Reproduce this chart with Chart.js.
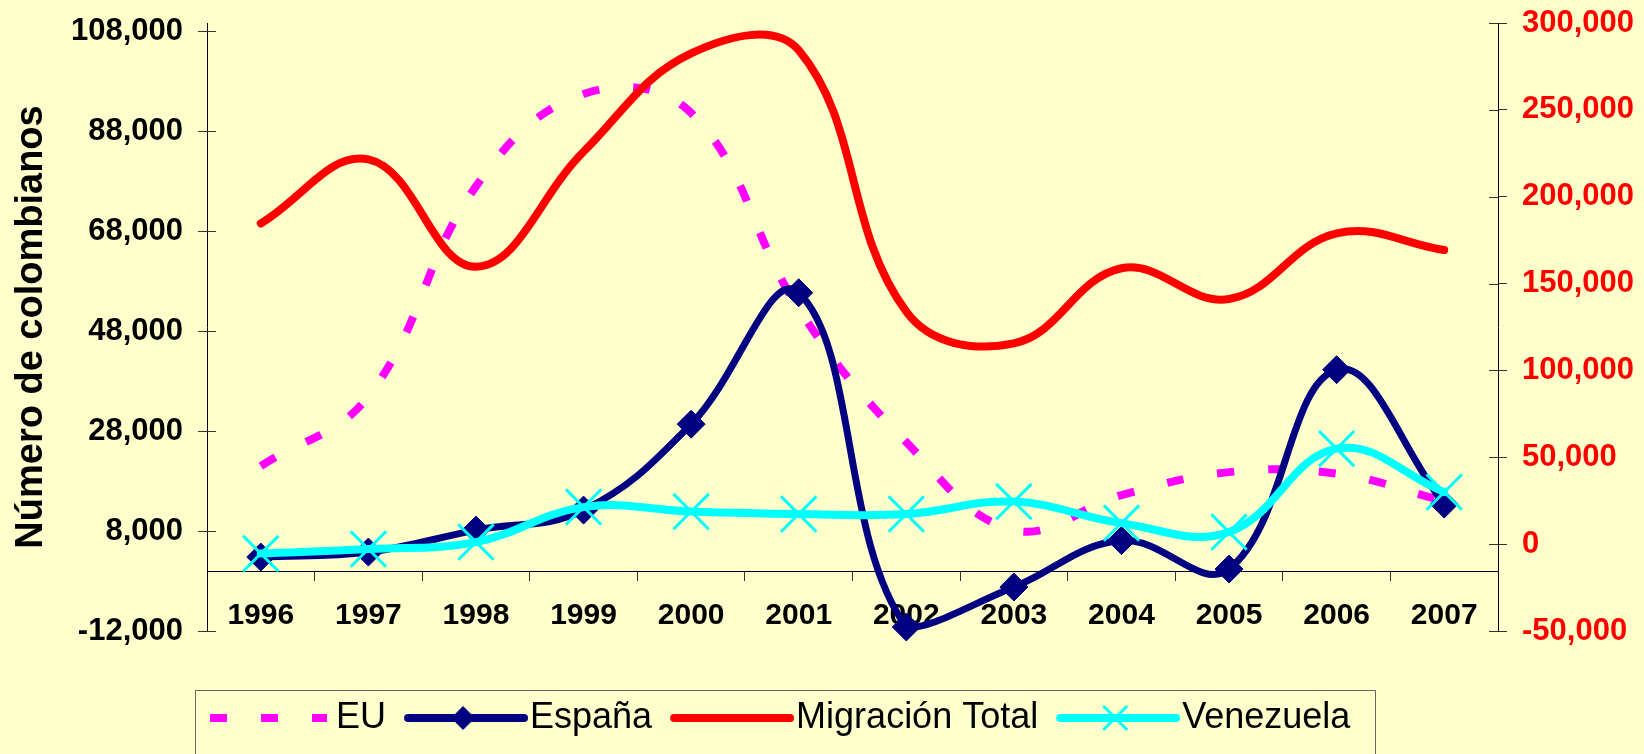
<!DOCTYPE html>
<html>
<head>
<meta charset="utf-8">
<script src="https://cdn.jsdelivr.net/npm/chart.js@4.4.1/dist/chart.umd.min.js"></script>
<style>
  html, body { margin: 0; padding: 0; background: #ffffcc; overflow: hidden; }
  canvas { display: block; }
</style>
</head>
<body>
<canvas id="migracion" width="1644" height="754"></canvas>
<script>
const years = ['1996', '1997', '1998', '1999', '2000', '2001', '2002', '2003', '2004', '2005', '2006', '2007'];
const eu = [21000, 35000, 77000, 95500, 91700, 52500, 25800, 8200, 15200, 19800, 19500, 14000];
const espana = [2800, 3800, 8200, 12200, 29400, 55700, -11200, -3200, 6100, 400, 40300, 13400];
const migracionTotal = [184600, 221500, 159700, 225900, 282500, 284400, 133800, 115600, 158800, 141100, 178900, 169300];
const venezuela = [3500, 4400, 5800, 12800, 11900, 11400, 11400, 13900, 9600, 7800, 24500, 15800];

const leftTicks = [-12000, 8000, 28000, 48000, 68000, 88000, 108000];
const rightTicks = [-50000, 0, 50000, 100000, 150000, 200000, 250000, 300000];

const FONT = '"Liberation Sans", Arial, sans-serif';
const fmt = v => Number(v).toLocaleString('en-US');

// small line+marker pictures for the legend, Excel style
function legendSample(color, kind) {
  const c = document.createElement('canvas');
  c.width = 128; c.height = 32;
  const g = c.getContext('2d');
  g.strokeStyle = color;
  g.fillStyle = color;
  g.lineWidth = 8;
  g.beginPath();
  if (kind === 'dash') {
    g.setLineDash([17, 34]);
    g.lineCap = 'butt';
    g.moveTo(4, 16); g.lineTo(121, 16);
  } else {
    g.lineCap = 'round';
    g.moveTo(8, 16); g.lineTo(124, 16);
  }
  g.stroke();
  g.setLineDash([]);
  if (kind === 'diamond') {
    g.beginPath();
    g.moveTo(63, 4); g.lineTo(75, 16); g.lineTo(63, 28); g.lineTo(51, 16);
    g.closePath(); g.fill();
  }
  if (kind === 'x') {
    g.lineWidth = 3; g.lineCap = 'butt';
    g.beginPath();
    g.moveTo(51, 4); g.lineTo(75, 28);
    g.moveTo(75, 4); g.lineTo(51, 28);
    g.stroke();
  }
  return c;
}

const samples = [
  legendSample('#ff00ff', 'dash'),
  legendSample('#000080', 'diamond'),
  legendSample('#ff0000', 'line'),
  legendSample('#00ffff', 'x')
];

// tick marks that cross the value axes
const crossTicks = {
  id: 'crossTicks',
  afterDraw(chart) {
    const ctx = chart.ctx;
    ctx.save();
    ctx.strokeStyle = '#333';
    ctx.lineWidth = 1;
    ['y', 'y1'].forEach(id => {
      const s = chart.scales[id];
      const x0 = id === 'y' ? chart.chartArea.left : chart.chartArea.right;
      const dir = id === 'y' ? 1 : -1;
      s.ticks.forEach((t, i) => {
        const py = Math.round(s.getPixelForTick(i)) + 0.5;
        ctx.beginPath();
        ctx.moveTo(x0, py);
        ctx.lineTo(x0 + dir * 9, py);
        ctx.stroke();
      });
    });
    ctx.restore();
  }
};

// put the legend where Excel had it, and draw its frame
const legendPlace = {
  id: 'legendPlace',
  afterLayout(chart) {
    const lg = chart.legend;
    lg.left = 192;
    lg.right = chart.width;
    lg.top = 670;
    lg.bottom = chart.height + 40;
  },
  afterDraw(chart) {
    const lg = chart.legend;
    const ctx = chart.ctx;
    ctx.save();
    ctx.strokeStyle = '#666';
    ctx.lineWidth = 1;
    ctx.strokeRect(lg.left + 3.5, lg.top + 20.5, 1180, 100);
    ctx.restore();
  }
};

// value axes: fixed width, no extra padding above/below
const fitAxis = w => s => {
  s.width = w;
  s.paddingTop = 0;
  s.paddingBottom = 0;
};

new Chart(document.getElementById('migracion'), {
  type: 'line',
  data: {
    labels: years,
    datasets: [{
      label: 'EU',
      data: eu,
      yAxisID: 'y',
      borderColor: '#ff00ff',
      borderWidth: 8,
      borderDash: [17, 34],
      borderCapStyle: 'butt',
      pointRadius: 0,
      tension: 0.4,
      clip: false,
      order: 3
    }, {
      label: 'España',
      data: espana,
      yAxisID: 'y',
      borderColor: '#000080',
      borderWidth: 7,
      borderCapStyle: 'round',
      borderJoinStyle: 'round',
      pointStyle: 'rectRot',
      pointRadius: 14,
      pointBackgroundColor: '#000080',
      pointBorderColor: '#000080',
      pointBorderWidth: 1,
      tension: 0.4,
      clip: false,
      order: 2
    }, {
      label: 'Migración Total',
      data: migracionTotal,
      yAxisID: 'y1',
      borderColor: '#ff0000',
      borderWidth: 8,
      borderCapStyle: 'round',
      borderJoinStyle: 'round',
      pointRadius: 0,
      tension: 0.4,
      clip: false,
      order: 0
    }, {
      label: 'Venezuela',
      data: venezuela,
      yAxisID: 'y',
      borderColor: '#00ffff',
      borderWidth: 8,
      borderCapStyle: 'round',
      borderJoinStyle: 'round',
      pointStyle: 'crossRot',
      pointRadius: 25,
      pointBorderColor: '#00ffff',
      pointBorderWidth: 3,
      tension: 0.4,
      clip: false,
      order: 1
    }]
  },
  options: {
    responsive: false,
    animation: false,
    layout: { autoPadding: false, padding: { top: 23, bottom: 63, left: 0, right: 0 } },
    scales: {
      x: {
        type: 'category',
        position: { y: 0 },
        offset: true,
        grid: { display: true, drawOnChartArea: false, drawTicks: true, tickLength: 9, offset: true, tickColor: '#333' },
        border: { display: true, color: '#000', width: 1 },
        ticks: { color: '#000', font: { family: FONT, size: 30, weight: 'bold' }, padding: 18, maxRotation: 0, autoSkip: false }
      },
      y: {
        type: 'linear',
        position: 'left',
        min: -12000,
        max: 109700,
        afterBuildTicks: s => { s.ticks = leftTicks.map(v => ({ value: v })); },
        afterFit: fitAxis(207),
        grid: { drawOnChartArea: false, tickLength: 9, tickColor: '#333' },
        border: { color: '#000', width: 1 },
        ticks: { color: '#000', font: { family: FONT, size: 31, weight: 'bold' }, padding: 15, callback: fmt },
        title: {
          display: true,
          text: 'Número de colombianos',
          color: '#000',
          font: { family: FONT, size: 38, weight: 'bold' },
          padding: { top: 9, bottom: 0 }
        }
      },
      y1: {
        type: 'linear',
        position: 'right',
        min: -50000,
        max: 300000,
        afterBuildTicks: s => { s.ticks = rightTicks.map(v => ({ value: v })); },
        afterFit: fitAxis(146),
        grid: { drawOnChartArea: false, tickLength: 9, tickColor: '#333' },
        border: { color: '#000', width: 1 },
        ticks: { color: '#ff0000', font: { family: FONT, size: 31, weight: 'bold' }, padding: 15, callback: fmt }
      }
    },
    plugins: {
      tooltip: { enabled: false },
      legend: {
        position: 'bottom',
        align: 'start',
        maxHeight: 60,
        labels: {
          usePointStyle: true,
          pointStyleWidth: 96,
          padding: 30,
          color: '#000',
          font: { family: FONT, size: 36 },
          generateLabels: chart => chart.data.datasets.map((ds, i) => ({
            text: ds.label,
            pointStyle: samples[i],
            datasetIndex: i,
            fontColor: '#000',
            lineWidth: 0,
            strokeStyle: 'transparent',
            fillStyle: 'transparent',
            hidden: false
          }))
        }
      }
    }
  },
  plugins: [crossTicks, legendPlace]
});
</script>
</body>
</html>
